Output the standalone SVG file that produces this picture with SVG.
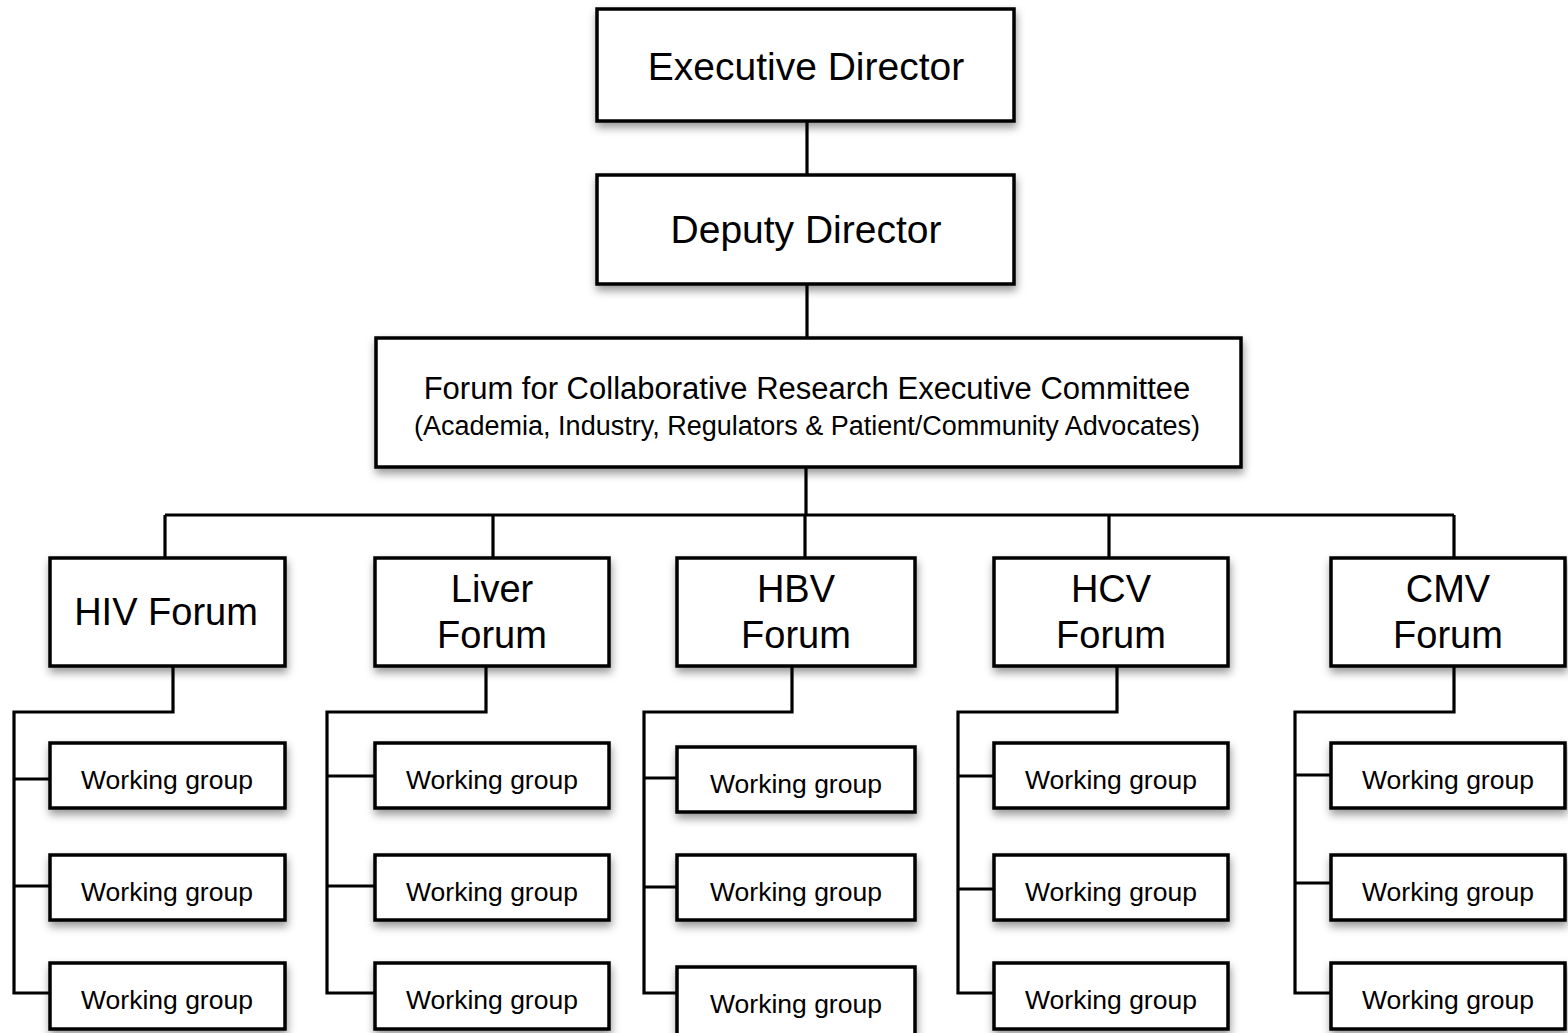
<svg xmlns="http://www.w3.org/2000/svg" width="1568" height="1033" viewBox="0 0 1568 1033">
<defs>
<filter id="sh" x="-10%" y="-20%" width="125%" height="150%">
<feDropShadow dx="1" dy="5" stdDeviation="4" flood-color="#000" flood-opacity="0.4"/>
</filter>
<style>
.box{fill:#fff;stroke:#000;stroke-width:3.5;filter:url(#sh)}
.ln{fill:none;stroke:#000;stroke-width:3.2}
text{font-family:"Liberation Sans",Arial,Helvetica,sans-serif;fill:#000;text-anchor:middle}
.t1{font-size:39px}
.t2{font-size:38px}
.t3{font-size:31px}
.t4{font-size:27px}
.wg{font-size:26.5px}
</style>
</defs>
<rect width="1568" height="1033" fill="#fff"/>
<g id="connectors">
<path class="ln" d="M807 121V175M807 284V338M806 467V515M165 515H1454M165 515V558M493 515V558M805 515V558M1109 515V558M1454 515V558"/>
<path class="ln" d="M173 666V712H14V993H50M14 779H50M14 886H50"/>
<path class="ln" d="M486 666V712H327V993H375M327 776H375M327 886H375"/>
<path class="ln" d="M792 666V712H644V993H677M644 778H677M644 887H677"/>
<path class="ln" d="M1117 666V712H958V993H994M958 776H994M958 889H994"/>
<path class="ln" d="M1454 666V712H1295V993H1331M1295 775H1331M1295 883H1331"/>
</g>
<g id="exec-director"><rect class="box" x="597" y="9" width="417" height="112"/><text class="t1" x="806" y="80">Executive Director</text></g>
<g id="deputy-director"><rect class="box" x="597" y="175" width="417" height="109"/><text class="t1" x="806" y="243">Deputy Director</text></g>
<g id="forum-exec"><rect class="box" x="376" y="338" width="865" height="129"/><text class="t3" x="807" y="399">Forum for Collaborative Research Executive Committee</text><text class="t4" x="807" y="435">(Academia, Industry, Regulators &amp; Patient/Community Advocates)</text></g>
<g id="hiv-forum"><rect class="box" x="50" y="558" width="235" height="108"/><text class="t2" x="166" y="625">HIV Forum</text></g>
<g id="liver-forum"><rect class="box" x="375" y="558" width="234" height="108"/><text class="t2" x="492" y="602">Liver</text><text class="t2" x="492" y="648">Forum</text></g>
<g id="hbv-forum"><rect class="box" x="677" y="558" width="238" height="108"/><text class="t2" x="796" y="602">HBV</text><text class="t2" x="796" y="648">Forum</text></g>
<g id="hcv-forum"><rect class="box" x="994" y="558" width="234" height="108"/><text class="t2" x="1111" y="602">HCV</text><text class="t2" x="1111" y="648">Forum</text></g>
<g id="cmv-forum"><rect class="box" x="1331" y="558" width="234" height="108"/><text class="t2" x="1448" y="602">CMV</text><text class="t2" x="1448" y="648">Forum</text></g>
<g id="hiv-wg1"><rect class="box" x="50" y="743" width="235" height="65"/><text class="wg" x="167" y="789">Working group</text></g>
<g id="hiv-wg2"><rect class="box" x="50" y="855" width="235" height="65"/><text class="wg" x="167" y="901">Working group</text></g>
<g id="hiv-wg3"><rect class="box" x="50" y="963" width="235" height="66"/><text class="wg" x="167" y="1009">Working group</text></g>
<g id="liver-wg1"><rect class="box" x="375" y="743" width="234" height="65"/><text class="wg" x="492" y="789">Working group</text></g>
<g id="liver-wg2"><rect class="box" x="375" y="855" width="234" height="65"/><text class="wg" x="492" y="901">Working group</text></g>
<g id="liver-wg3"><rect class="box" x="375" y="963" width="234" height="66"/><text class="wg" x="492" y="1009">Working group</text></g>
<g id="hbv-wg1"><rect class="box" x="677" y="747" width="238" height="65"/><text class="wg" x="796" y="793">Working group</text></g>
<g id="hbv-wg2"><rect class="box" x="677" y="855" width="238" height="65"/><text class="wg" x="796" y="901">Working group</text></g>
<g id="hbv-wg3"><rect class="box" x="677" y="967" width="238" height="68"/><text class="wg" x="796" y="1013">Working group</text></g>
<g id="hcv-wg1"><rect class="box" x="994" y="743" width="234" height="65"/><text class="wg" x="1111" y="789">Working group</text></g>
<g id="hcv-wg2"><rect class="box" x="994" y="855" width="234" height="65"/><text class="wg" x="1111" y="901">Working group</text></g>
<g id="hcv-wg3"><rect class="box" x="994" y="963" width="234" height="66"/><text class="wg" x="1111" y="1009">Working group</text></g>
<g id="cmv-wg1"><rect class="box" x="1331" y="743" width="234" height="65"/><text class="wg" x="1448" y="789">Working group</text></g>
<g id="cmv-wg2"><rect class="box" x="1331" y="855" width="234" height="65"/><text class="wg" x="1448" y="901">Working group</text></g>
<g id="cmv-wg3"><rect class="box" x="1331" y="963" width="234" height="66"/><text class="wg" x="1448" y="1009">Working group</text></g>
</svg>
